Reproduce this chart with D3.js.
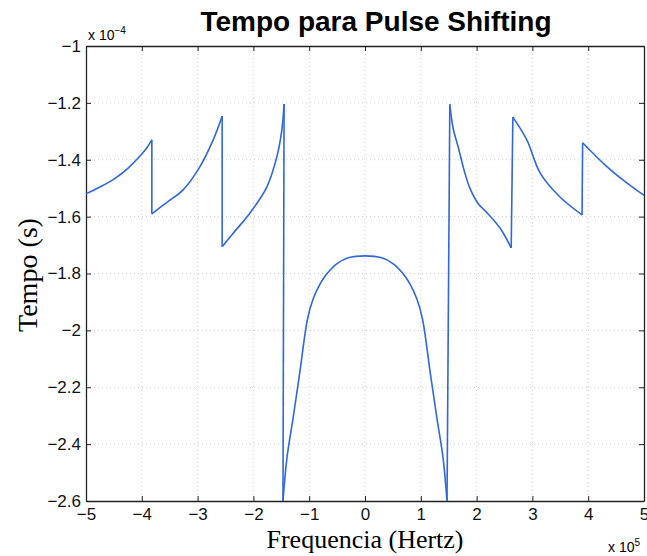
<!DOCTYPE html>
<html>
<head>
<meta charset="utf-8">
<script src="https://cdn.jsdelivr.net/npm/d3@7"></script>
<style>
  body { margin: 0; background: #fff; }
  .tick text { font-family: "Liberation Sans", Arial, sans-serif; font-size: 17px; fill: #111; }
</style>
</head>
<body>
<div id="chart"></div>
<script>
// frequency in units of 1e5 Hz, tempo in units of 1e-4 s
const freq = [
  -5, -4.75, -4.5, -4.25, -4.0, -3.9, -3.82,
  -3.82, -3.55, -3.26, -2.96, -2.72, -2.62, -2.56,
  -2.56, -2.37, -2.06, -1.76, -1.58, -1.49, -1.45,
  -1.47, -1.40, -1.29, -1.17, -1.03, -0.93, -0.8, -0.68, -0.5, -0.3, 0,
  0.3, 0.5, 0.68, 0.8, 0.93, 1.03, 1.17, 1.29, 1.40, 1.47,
  1.52, 1.58, 1.67, 1.78, 1.88, 2.03, 2.19, 2.42, 2.62,
  2.65, 2.9, 3.14, 3.49, 3.89,
  3.9, 4.34, 4.65, 5
];
const tempo = [
  -1.52, -1.496, -1.468, -1.43, -1.38, -1.355, -1.33,
  -1.59, -1.55, -1.506, -1.425, -1.33, -1.28, -1.246,
  -1.706, -1.66, -1.587, -1.496, -1.39, -1.295, -1.204,
  -2.6, -2.45, -2.31, -2.15, -1.96, -1.89, -1.835, -1.80, -1.765, -1.745, -1.738,
  -1.745, -1.765, -1.80, -1.835, -1.89, -1.96, -2.15, -2.31, -2.45, -2.6,
  -1.205, -1.29, -1.355, -1.44, -1.5, -1.555, -1.587, -1.64, -1.71,
  -1.25, -1.33, -1.447, -1.53, -1.594,
  -1.34, -1.425, -1.475, -1.525
];
const xTicks = [-5, -4, -3, -2, -1, 0, 1, 2, 3, 4, 5];
const yTicks = [-2.6, -2.4, -2.2, -2, -1.8, -1.6, -1.4, -1.2, -1];

const margin = { top: 46, right: 3, bottom: 55, left: 86 };
const width = 647 - margin.left - margin.right;
const height = 556 - margin.top - margin.bottom;

const svg = d3.select("#chart")
  .append("svg")
  .attr("width", 647)
  .attr("height", 556);

const g = svg.append("g")
  .attr("transform", "translate(" + margin.left + "," + margin.top + ")");

const x = d3.scaleLinear().domain([-5, 5]).range([0, width]);
const y = d3.scaleLinear().domain([-2.6, -1]).range([height, 0]);

const fmt = d => String(d).replace("-", "\u2212");

// dotted grid
g.append("g").selectAll("line")
  .data(xTicks.slice(1, -1))
  .join("line")
  .attr("x1", d => x(d)).attr("x2", d => x(d))
  .attr("y1", 0).attr("y2", height)
  .attr("stroke", "#cfcfcf")
  .attr("stroke-dasharray", "1,3");

g.append("g").selectAll("line")
  .data(yTicks.slice(1, -1))
  .join("line")
  .attr("y1", d => y(d)).attr("y2", d => y(d))
  .attr("x1", 0).attr("x2", width)
  .attr("stroke", "#cfcfcf")
  .attr("stroke-dasharray", "1,3");

// axes, ticks pointing inwards
const xAxis = d3.axisBottom(x).tickValues(xTicks).tickFormat(fmt).tickSizeInner(-5).tickSizeOuter(0).tickPadding(7);
const yAxis = d3.axisLeft(y).tickValues(yTicks).tickFormat(fmt).tickSizeInner(-5).tickSizeOuter(0).tickPadding(5);

g.append("g")
  .attr("transform", "translate(0," + height + ")")
  .call(xAxis);
g.append("g").call(yAxis);

g.append("g")
  .call(d3.axisTop(x).tickValues(xTicks).tickFormat("").tickSizeInner(-5).tickSizeOuter(0));
g.append("g")
  .attr("transform", "translate(" + width + ",0)")
  .call(d3.axisRight(y).tickValues(yTicks).tickFormat("").tickSizeInner(-5).tickSizeOuter(0));

g.selectAll(".domain").attr("stroke", "#222").attr("stroke-width", 1.3);
g.selectAll(".tick line").attr("stroke", "#222");

// split the curve into smooth pieces at the vertical jumps
const pts = freq.map((f, i) => [f, tempo[i]]);
const pieces = [[pts[0]]];
for (let i = 1; i < pts.length; i++) {
  const dx = Math.abs(pts[i][0] - pts[i - 1][0]);
  const dy = Math.abs(pts[i][1] - pts[i - 1][1]);
  if (dy > 0.2 && dy > 5 * dx) pieces.push([]);
  pieces[pieces.length - 1].push(pts[i]);
}

const smooth = d3.line()
  .x(d => x(d[0]))
  .y(d => y(d[1]))
  .curve(d3.curveCatmullRom.alpha(0.5));

const straight = d3.line()
  .x(d => x(d[0]))
  .y(d => y(d[1]));

const jumps = pieces.slice(1).map((p, i) => [pieces[i][pieces[i].length - 1], p[0]]);

g.selectAll(".piece")
  .data(pieces)
  .join("path")
  .attr("class", "piece")
  .attr("fill", "none")
  .attr("stroke", "#2f68d8")
  .attr("stroke-width", 1.6)
  .attr("stroke-linejoin", "round")
  .attr("d", smooth);

g.selectAll(".jump")
  .data(jumps)
  .join("path")
  .attr("class", "jump")
  .attr("fill", "none")
  .attr("stroke", "#2f68d8")
  .attr("stroke-width", 1.6)
  .attr("d", straight);

// title and labels
svg.append("text")
  .attr("x", 376)
  .attr("y", 31)
  .attr("text-anchor", "middle")
  .style("font-family", "'Liberation Sans', Arial, sans-serif")
  .style("font-weight", "bold")
  .style("font-size", "28px")
  .text("Tempo para Pulse Shifting");

svg.append("text")
  .attr("transform", "translate(37,275) rotate(-90)")
  .attr("text-anchor", "middle")
  .style("font-family", "'Liberation Serif', 'Times New Roman', serif")
  .style("font-size", "28px")
  .text("Tempo (s)");

svg.append("text")
  .attr("x", 365)
  .attr("y", 548)
  .attr("text-anchor", "middle")
  .style("font-family", "'Liberation Serif', 'Times New Roman', serif")
  .style("font-size", "26px")
  .text("Frequencia (Hertz)");

// exponent labels
const e1 = svg.append("text")
  .attr("x", 88)
  .attr("y", 40)
  .style("font-family", "'Liberation Sans', Arial, sans-serif")
  .style("font-size", "14px");
e1.append("tspan").text("x 10");
e1.append("tspan").attr("dy", -6).style("font-size", "10px").text("\u22124");

const e2 = svg.append("text")
  .attr("x", 608)
  .attr("y", 552)
  .style("font-family", "'Liberation Sans', Arial, sans-serif")
  .style("font-size", "14px");
e2.append("tspan").text("x 10");
e2.append("tspan").attr("dy", -6).style("font-size", "10px").text("5");
</script>
</body>
</html>
